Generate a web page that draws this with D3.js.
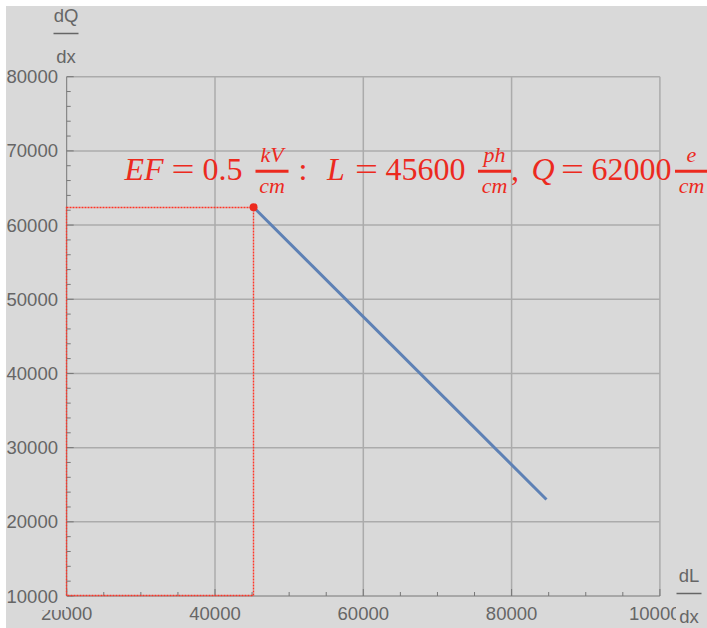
<!DOCTYPE html>
<html>
<head>
<meta charset="utf-8">
<script src="https://cdn.jsdelivr.net/npm/d3@7"></script>
<style>
  body { margin: 0; background: #ffffff; }
  svg { display: block; overflow: hidden; }
</style>
</head>
<body>
<div id="chart-area"></div>
<script>
const xTicks = [20000, 40000, 60000, 80000, 100000];
const yTicks = [10000, 20000, 30000, 40000, 50000, 60000, 70000, 80000];
const xMinorStep = 5000;
const yMinorStep = 2000;

// dL/dx vs dQ/dx curve (start, end)
const curveL = [45200, 84700];
const curveQ = [62400, 23000];

// highlighted point
const markL = 45200;
const markQ = 62400;

// label pieces: [text, italic, centre x]
const labelPieces = [
  ["EF", true, 144], ["=", false, 183], ["0.5", false, 222.5],
  [":", false, 303], ["L", true, 336], ["=", false, 366.5],
  ["45600", false, 425.5], [",", false, 515], ["Q", true, 543],
  ["=", false, 572.5], ["62000", false, 631.5]
];
const labelFracs = [
  ["kV", "cm", 272], ["ph", "cm", 494.5], ["e", "cm", 691.5]
];

const width = 707;
const height = 628;
const bg = "#d9d9d9";
const grey = "#666666";
const red = "#ec2a1e";

const svg = d3
  .select("#chart-area")
  .append("svg")
  .attr("width", width)
  .attr("height", height);

svg
  .append("rect")
  .attr("x", 6)
  .attr("y", 6)
  .attr("width", width - 6)
  .attr("height", height - 6)
  .attr("fill", bg);

const x = d3.scaleLinear().domain([20000, 100000]).range([66.7, 659.9]);
const y = d3.scaleLinear().domain([10000, 80000]).range([596, 76.7]);

// grid
const grid = svg.append("g").attr("stroke", "#ababab").attr("stroke-width", 1.5);
grid
  .selectAll("line.v")
  .data(xTicks.slice(1))
  .join("line")
  .attr("class", "v")
  .attr("x1", (d) => x(d))
  .attr("x2", (d) => x(d))
  .attr("y1", y(10000))
  .attr("y2", y(80000));
grid
  .selectAll("line.h")
  .data(yTicks.slice(1))
  .join("line")
  .attr("class", "h")
  .attr("x1", x(20000))
  .attr("x2", x(100000))
  .attr("y1", (d) => y(d))
  .attr("y2", (d) => y(d));

// axes
const axes = svg.append("g").attr("stroke", "#777").attr("stroke-width", 1);
axes
  .append("line")
  .attr("x1", x(20000))
  .attr("x2", x(100000))
  .attr("y1", y(10000))
  .attr("y2", y(10000));
axes
  .append("line")
  .attr("x1", x(20000))
  .attr("x2", x(20000))
  .attr("y1", y(10000))
  .attr("y2", y(80000));

const xMinor = d3.range(20000, 100001, xMinorStep);
const yMinor = d3.range(10000, 80001, yMinorStep);
axes
  .selectAll("line.xt")
  .data(xMinor)
  .join("line")
  .attr("class", "xt")
  .attr("x1", (d) => x(d))
  .attr("x2", (d) => x(d))
  .attr("y1", y(10000))
  .attr("y2", (d) => y(10000) - (d % 20000 === 0 ? 7 : 4));
axes
  .selectAll("line.yt")
  .data(yMinor)
  .join("line")
  .attr("class", "yt")
  .attr("y1", (d) => y(d))
  .attr("y2", (d) => y(d))
  .attr("x1", x(20000))
  .attr("x2", (d) => x(20000) + (d % 10000 === 0 ? 7 : 4));

// tick labels
const font = "'Liberation Sans', Arial, sans-serif";
svg
  .append("g")
  .selectAll("text")
  .data(xTicks)
  .join("text")
  .attr("x", (d) => x(d))
  .attr("y", 620)
  .attr("text-anchor", "middle")
  .attr("font-family", font)
  .attr("font-size", 18.5)
  .attr("fill", grey)
  .text((d) => d);

// label frames cover neighbours
svg.append("rect").attr("x", 6).attr("y", 586).attr("width", 60).attr("height", 24).attr("fill", bg);
svg.append("rect").attr("x", 676).attr("y", 560).attr("width", 31).attr("height", 68).attr("fill", bg);

svg
  .append("g")
  .selectAll("text")
  .data(yTicks)
  .join("text")
  .attr("x", 58)
  .attr("y", (d) => y(d) + 6.5)
  .attr("text-anchor", "end")
  .attr("font-family", font)
  .attr("font-size", 18.5)
  .attr("fill", grey)
  .text((d) => d);

// axis titles as fractions
function axisFrac(cx, top, num) {
  const g = svg.append("g").attr("font-family", font).attr("font-size", 18.5).attr("fill", grey);
  g.append("text").attr("x", cx).attr("y", top).attr("text-anchor", "middle").text(num);
  g.append("line")
    .attr("x1", cx - 12.5)
    .attr("x2", cx + 12.5)
    .attr("y1", top + 11.5)
    .attr("y2", top + 11.5)
    .attr("stroke", grey)
    .attr("stroke-width", 1.5);
  g.append("text").attr("x", cx).attr("y", top + 41).attr("text-anchor", "middle").text("dx");
}
axisFrac(66, 22, "dQ");
axisFrac(689, 582, "dL");

// dotted guide rectangle (snapped to pixel centres)
const gx0 = Math.round(x(20000)) - 0.5;
const gx1 = Math.round(x(markL)) - 0.5;
const gy0 = Math.round(y(markQ)) + 0.5;
const gy1 = Math.round(y(10000)) - 0.5;
svg
  .append("path")
  .attr("d", `M${gx0},${gy0}H${gx1}V${gy1}H${gx0}Z`)
  .attr("fill", "none")
  .attr("stroke", "#ff3527")
  .attr("stroke-width", 1.4)
  .attr("stroke-dasharray", "2,1");

// curve
svg
  .append("path")
  .datum(d3.zip(curveL, curveQ))
  .attr("d", d3.line().x((d) => x(d[0])).y((d) => y(d[1])))
  .attr("fill", "none")
  .attr("stroke", "#5e81b5")
  .attr("stroke-width", 3);

svg
  .append("circle")
  .attr("cx", x(markL))
  .attr("cy", y(markQ))
  .attr("r", 4)
  .attr("fill", red);

// red label
const serif = "'Liberation Serif', 'Times New Roman', serif";
const label = svg.append("g").attr("font-family", serif).attr("fill", red);
label
  .selectAll("text.p")
  .data(labelPieces)
  .join("text")
  .attr("class", "p")
  .attr("x", (d) => d[2])
  .attr("y", 180)
  .attr("text-anchor", "middle")
  .attr("font-size", 32)
  .attr("font-style", (d) => (d[1] ? "italic" : "normal"))
  .each(function (d) {
    if (d[0] === "=") {
      d3.select(this).attr("textLength", 23).attr("lengthAdjust", "spacingAndGlyphs");
    }
  })
  .text((d) => d[0]);

const frac = label.selectAll("g.f").data(labelFracs).join("g").attr("class", "f");
frac
  .append("text")
  .attr("x", (d) => d[2])
  .attr("y", 162)
  .attr("text-anchor", "middle")
  .attr("font-size", 22)
  .attr("font-style", "italic")
  .text((d) => d[0]);
frac
  .append("text")
  .attr("x", (d) => d[2])
  .attr("y", 193)
  .attr("text-anchor", "middle")
  .attr("font-size", 22)
  .attr("font-style", "italic")
  .text((d) => d[1]);
frac
  .append("line")
  .attr("x1", (d) => d[2] - 16.5)
  .attr("x2", (d) => d[2] + 16.5)
  .attr("y1", 171.3)
  .attr("y2", 171.3)
  .attr("stroke", red)
  .attr("stroke-width", 3);
</script>
</body>
</html>
